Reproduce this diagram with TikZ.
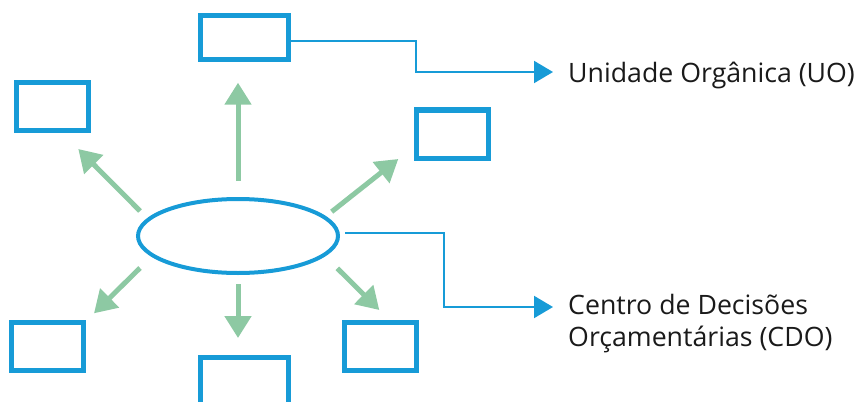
\documentclass[tikz,border=0pt]{standalone}
\usepackage{fontspec}
\setmainfont{Open Sans}
\usetikzlibrary{arrows.meta,shapes.geometric}
\definecolor{boxblue}{HTML}{179BD7}
\definecolor{arrowgreen}{HTML}{8DC9A3}
\definecolor{textdark}{HTML}{1A1A1A}
\begin{document}
\begin{tikzpicture}[x=1pt,y=-1pt,
  unitbox/.style={draw=boxblue, line width=5pt, rectangle, inner sep=0pt},
  centre/.style={draw=boxblue, line width=4pt, ellipse, inner sep=0pt,
    minimum width=200pt, minimum height=74pt},
  spoke/.style={draw=arrowgreen, line width=5pt,
    -{Triangle[length=22pt,width=26pt]}, arrowgreen},
  link/.style={draw=boxblue, line width=2pt,
    -{Triangle[length=19pt,width=22pt]}, boxblue},
  caption/.style={text=textdark, inner sep=0pt, anchor=base west,
    align=left, font=\fontsize{26.7}{32.5}\selectfont}
]
\clip (0,0) rectangle (858,401);

% central unit
\node[centre] (e) at (238,236) {};

% surrounding units
\node[unitbox, minimum width=88pt, minimum height=44pt] (b1) at (244,38) {};
\node[unitbox, minimum width=71.5pt, minimum height=47.5pt] (b2) at (52.25,106.25) {};
\node[unitbox, minimum width=72pt, minimum height=48pt] (b3) at (452.5,134) {};
\node[unitbox, minimum width=71.5pt, minimum height=47.5pt] (b4) at (47.25,346.25) {};
\node[unitbox, minimum width=88.5pt, minimum height=50pt] (b5) at (244.25,382) {};
\node[unitbox, minimum width=72pt, minimum height=47.5pt] (b6) at (380,346.25) {};

% spokes from the centre
\coordinate (upA) at (238,181);   \coordinate (upB) at (238,82.7);
\coordinate (dnA) at (238,284);   \coordinate (dnB) at (238,338);
\coordinate (ulA) at (140,211);   \coordinate (ulB) at (78.3,149);
\coordinate (urA) at (331.7,211.7); \coordinate (urB) at (398.3,159);
\coordinate (llA) at (140,268);   \coordinate (llB) at (94,313.3);
\coordinate (lrA) at (337.3,268.3); \coordinate (lrB) at (379.3,310);
\draw[spoke] (upA) -- (upB);
\draw[spoke] (dnA) -- (dnB);
\draw[spoke] (ulA) -- (ulB);
\draw[spoke] (urA) -- (urB);
\draw[spoke] (llA) -- (llB);
\draw[spoke] (lrA) -- (lrB);

% labels (a two-line node sits on the baseline of its last line)
\node[caption] (uo) at (568,82.5) {Unidade Orgânica (UO)};
\node[caption] (cdo) at (568,346.5) {Centro de Decisões\\Orçamentárias (CDO)};

% callout connectors
\coordinate (uoElbow) at (416,72);
\coordinate (uoTip) at (553,72);
\draw[link] ([yshift=-3pt]b1.east) -| (uoElbow) -- (uoTip);

\coordinate (cdoElbow) at (444,307);
\coordinate (cdoTip) at (553,307);
\draw[link] ([shift={(5,-3)}]e.east) -| (cdoElbow) -- (cdoTip);
\end{tikzpicture}
\end{document}
